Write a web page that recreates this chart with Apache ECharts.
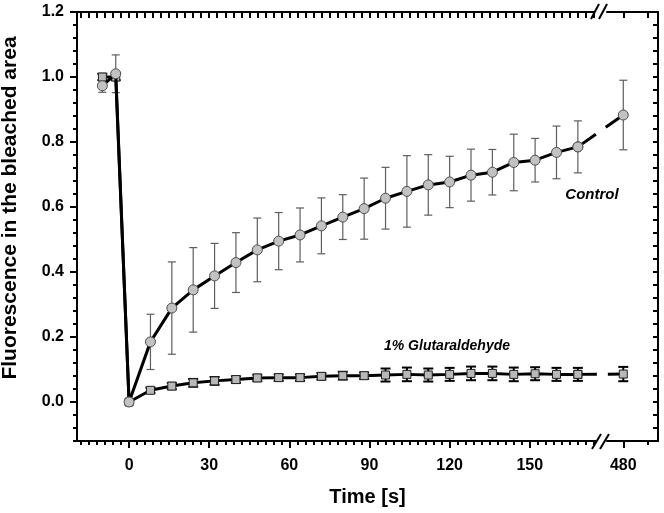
<!DOCTYPE html>
<html><head><meta charset="utf-8">
<script src="https://cdn.jsdelivr.net/npm/echarts@6/dist/echarts.min.js"></script>
<style>html,body{margin:0;padding:0;background:#fff}#c{width:664px;height:513px}</style>
</head><body><div id="c"></div>
<script>
// ---- data ----
const time = [-10, -5, 0, 8, 16, 24, 32, 40, 48, 56, 64, 72, 80, 88, 96, 104, 112, 120, 128, 136, 144, 152, 160, 168, 480];
const control = [0.973, 1.01, 0, 0.185, 0.289, 0.345, 0.388, 0.429, 0.468, 0.495, 0.514, 0.542, 0.569, 0.595, 0.627, 0.648, 0.668, 0.677, 0.698, 0.707, 0.737, 0.744, 0.768, 0.785, 0.883];
const controlErr = [0.02, 0.058, 0, 0.085, 0.142, 0.13, 0.1, 0.092, 0.098, 0.088, 0.083, 0.086, 0.069, 0.094, 0.095, 0.11, 0.093, 0.079, 0.08, 0.07, 0.087, 0.067, 0.081, 0.08, 0.107];
const glut = [1.0, 1.0, 0, 0.036, 0.049, 0.059, 0.065, 0.069, 0.074, 0.075, 0.075, 0.079, 0.081, 0.081, 0.083, 0.085, 0.083, 0.085, 0.088, 0.088, 0.085, 0.087, 0.085, 0.085, 0.086];
const glutErr = [0.01, 0.01, 0, 0.008, 0.01, 0.012, 0.012, 0.01, 0.01, 0.01, 0.01, 0.01, 0.012, 0.01, 0.02, 0.021, 0.02, 0.02, 0.021, 0.021, 0.021, 0.02, 0.02, 0.02, 0.022];
const xTickLabels = [0, 30, 60, 90, 120, 150, 480];
const yTickLabels = [0, 0.2, 0.4, 0.6, 0.8, 1.0, 1.2];
const seriesNames = ['Control', '1% Glutaraldehyde'];

// ---- axis setup ----
const breakStart = 176, breakEnd = 474;
const xMin = -19.5, xMax = 493, yMin = -0.12, yMax = 1.2;
const FONT = '"Liberation Sans", Arial, Helvetica, sans-serif';
const xMinor = [];
for (let v = -18; v <= 174; v += 3) if (v % 30 !== 0) xMinor.push(v);
xMinor.push(489);
const xAll = xTickLabels.concat(xMinor);

function mkBreaks() { return [{ start: breakStart, end: breakEnd, gap: 3 }]; }
const hiddenBreakArea = { show: false, itemStyle: { opacity: 0, borderWidth: 0 } };

const pre = [], post = [];
time.forEach((t, i) => (t < breakStart ? pre : post).push(i));
const pts = (vals, idx) => idx.map(i => [time[i], vals[i]]);
const errData = (vals, errs) => time.map((t, i) => [t, vals[i] - errs[i], vals[i] + errs[i]]);
const lastPre = pre[pre.length - 1];

function errRender(capHalf, color, width) {
  return function (params, api) {
    const x = api.value(0), lo = api.value(1), hi = api.value(2);
    if (hi - lo <= 0) return null;
    const a = api.coord([x, lo]), b = api.coord([x, hi]);
    const style = { stroke: color, lineWidth: width };
    return { type: 'group', children: [
      { type: 'line', shape: { x1: a[0], y1: a[1], x2: b[0], y2: b[1] }, style },
      { type: 'line', shape: { x1: a[0] - capHalf, y1: a[1], x2: a[0] + capHalf, y2: a[1] }, style },
      { type: 'line', shape: { x1: b[0] - capHalf, y1: b[1], x2: b[0] + capHalf, y2: b[1] }, style }
    ]};
  };
}

const circleStyle = { color: '#c2c2c2', borderColor: '#505050', borderWidth: 1 };
const squareStyle = { color: '#b8b8b8', borderColor: '#202020', borderWidth: 1 };
const lineBlack = { color: '#000', width: 3 };
const axLine = { show: true, onZero: false, lineStyle: { color: '#000', width: 2 } };
const noLine = { show: false, onZero: false };

const chart = echarts.init(document.getElementById('c'), null, { renderer: 'canvas' });
chart.setOption({
  animation: false,
  backgroundColor: '#fff',
  grid: { left: 77, right: 6, top: 12, bottom: 72, containLabel: false },
  xAxis: [
    { type: 'value', position: 'bottom', min: xMin, max: xMax, breaks: mkBreaks(), breakArea: hiddenBreakArea,
      name: 'Time [s]', nameLocation: 'middle', nameGap: 46,
      nameTextStyle: { fontFamily: FONT, fontWeight: 'bold', fontSize: 20, color: '#000' },
      axisLine: axLine,
      axisTick: { show: true, inside: false, length: 7, lineStyle: { color: '#000', width: 2 }, customValues: xTickLabels },
      axisLabel: { show: true, margin: 17, customValues: xTickLabels, fontFamily: FONT, fontWeight: 'bold', fontSize: 16, color: '#000' },
      splitLine: { show: false }, minorTick: { show: false } },
    { type: 'value', position: 'bottom', min: xMin, max: xMax, breaks: mkBreaks(), breakArea: hiddenBreakArea,
      axisLine: noLine,
      axisTick: { show: true, inside: false, length: 4, lineStyle: { color: '#000', width: 2 }, customValues: xMinor },
      axisLabel: { show: false }, splitLine: { show: false } },
    { type: 'value', position: 'top', min: xMin, max: xMax, breaks: mkBreaks(), breakArea: hiddenBreakArea,
      axisLine: axLine,
      axisTick: { show: true, inside: true, length: 6, lineStyle: { color: '#000', width: 2 }, customValues: xAll },
      axisLabel: { show: false }, splitLine: { show: false } }
  ],
  yAxis: [
    { type: 'value', position: 'left', min: yMin, max: yMax,
      axisLine: axLine,
      axisTick: { show: true, inside: false, length: 7, lineStyle: { color: '#000', width: 2 }, customValues: yTickLabels },
      axisLabel: { show: true, margin: 13, customValues: yTickLabels, formatter: v => v.toFixed(1),
        fontFamily: FONT, fontWeight: 'bold', fontSize: 16, color: '#000' },
      splitLine: { show: false } },
    { type: 'value', position: 'left', min: yMin, max: yMax, interval: 0.04,
      axisLine: noLine,
      axisTick: { show: true, inside: false, length: 4, lineStyle: { color: '#000', width: 2 } },
      axisLabel: { show: false }, splitLine: { show: false } },
    { type: 'value', position: 'right', min: yMin, max: yMax, interval: 0.04,
      axisLine: axLine,
      axisTick: { show: true, inside: true, length: 5, lineStyle: { color: '#000', width: 2 } },
      axisLabel: { show: false }, splitLine: { show: false } }
  ],
  series: [
    { type: 'custom', name: 'glutErr', xAxisIndex: 0, yAxisIndex: 0, z: 2,
      renderItem: errRender(5, '#000', 2), encode: { x: 0, y: [1, 2] }, data: errData(glut, glutErr) },
    { type: 'custom', name: 'controlErr', xAxisIndex: 0, yAxisIndex: 0, z: 2,
      renderItem: errRender(4, '#5e5e5e', 1.2), encode: { x: 0, y: [1, 2] }, data: errData(control, controlErr) },
    { type: 'line', name: seriesNames[1], xAxisIndex: 0, yAxisIndex: 0, z: 3,
      data: pts(glut, pre), symbol: 'rect', symbolSize: 8, itemStyle: squareStyle, lineStyle: lineBlack },
    { type: 'line', name: seriesNames[1] + ' break', xAxisIndex: 0, yAxisIndex: 0, z: 3,
      data: pts(glut, [lastPre].concat(post)), symbol: 'rect', symbolSize: 8, itemStyle: squareStyle,
      lineStyle: { color: '#000', width: 3, type: [19, 11] } },
    { type: 'line', name: seriesNames[0], xAxisIndex: 0, yAxisIndex: 0, z: 4,
      data: pts(control, pre), symbol: 'circle', symbolSize: 10, itemStyle: circleStyle, lineStyle: lineBlack },
    { type: 'line', name: seriesNames[0] + ' break', xAxisIndex: 0, yAxisIndex: 0, z: 4,
      data: pts(control, [lastPre].concat(post)), symbol: 'circle', symbolSize: 10, itemStyle: circleStyle,
      lineStyle: { color: '#000', width: 3, type: [22, 12] } }
  ],
  graphic: [
    { type: 'text', x: 10, y: 208, rotation: Math.PI / 2, z: 10,
      style: { text: 'Fluorescence in the bleached area', font: 'bold 21px ' + FONT, fill: '#000', align: 'center', verticalAlign: 'middle' } },
    { type: 'text', x: 592, y: 195, z: 10,
      style: { text: seriesNames[0], font: 'italic bold 15px ' + FONT, fill: '#000', align: 'center', verticalAlign: 'middle' } },
    { type: 'text', x: 447, y: 346, z: 10,
      style: { text: seriesNames[1], font: 'italic bold 14px ' + FONT, fill: '#000', align: 'center', verticalAlign: 'middle' } },
    // axis break marks
    { type: 'rect', shape: { x: 596, y: 438, width: 8, height: 6 }, style: { fill: '#fff' }, z: 20 },
    { type: 'line', shape: { x1: 592, y1: 449, x2: 601, y2: 434 }, style: { stroke: '#000', lineWidth: 2 }, z: 21 },
    { type: 'line', shape: { x1: 600, y1: 449, x2: 609, y2: 434 }, style: { stroke: '#000', lineWidth: 2 }, z: 21 },
    { type: 'rect', shape: { x: 595, y: 9, width: 8, height: 6 }, style: { fill: '#fff' }, z: 20 },
    { type: 'line', shape: { x1: 591, y1: 19, x2: 599, y2: 4 }, style: { stroke: '#000', lineWidth: 2 }, z: 21 },
    { type: 'line', shape: { x1: 599, y1: 19, x2: 607, y2: 4 }, style: { stroke: '#000', lineWidth: 2 }, z: 21 }
  ]
});
</script>
</body></html>
